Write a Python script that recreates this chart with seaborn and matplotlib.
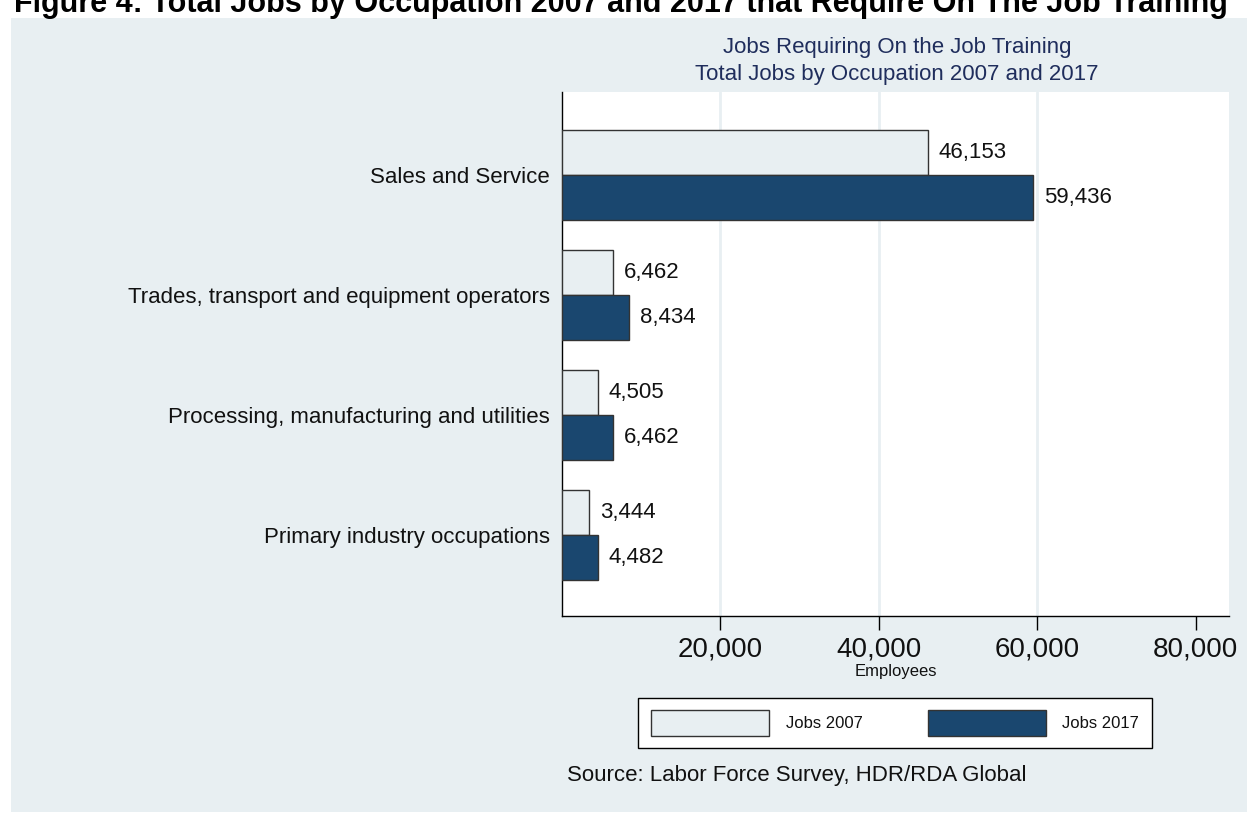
import matplotlib
matplotlib.use("Agg")
import matplotlib.pyplot as plt
from matplotlib.patches import Rectangle, Patch
import seaborn as sns
import pandas as pd

# Occupations and job counts
occupations = [
    "Sales and Service",
    "Trades, transport and equipment operators",
    "Processing, manufacturing and utilities",
    "Primary industry occupations",
]
jobs_2007 = [46153, 6462, 4505, 3444]
jobs_2017 = [59436, 8434, 6462, 4482]
series = ["Jobs 2007", "Jobs 2017"]
x_ticks = [20000, 40000, 60000, 80000]

df = pd.DataFrame({
    "occupation": occupations * 2,
    "jobs": jobs_2007 + jobs_2017,
    "series": [series[0]] * len(occupations) + [series[1]] * len(occupations),
})

PANEL = "#e8eff2"
NAVY = "#1a476f"
TITLE_C = "#1f2d5c"
INK = "#111111"

sns.set_theme(style="white")
plt.rcParams["font.family"] = ["Liberation Sans", "DejaVu Sans"]
plt.rcParams.update({"text.color": INK, "xtick.color": INK, "ytick.color": INK,
                     "axes.labelcolor": INK})

W, H = 1257, 813
fig = plt.figure(figsize=(W / 100, H / 100), dpi=100, facecolor="white")
fig.patches.append(Rectangle((11 / W, 1 - 812 / H), (1247 - 11) / W, (812 - 18) / H,
                             transform=fig.transFigure, facecolor=PANEL,
                             edgecolor="none", zorder=-10))

ax = fig.add_axes([562 / W, 1 - 616 / H, (1229 - 562) / W, (616 - 92) / H])
ax.set_zorder(1)
ax.set_facecolor("white")

sns.barplot(data=df, y="occupation", x="jobs", hue="series", orient="h",
            order=occupations, hue_order=series,
            palette={series[0]: PANEL, series[1]: NAVY}, saturation=1,
            width=0.75, edgecolor="#333333", linewidth=1.0, ax=ax, legend=False,
            zorder=3)

for cont in ax.containers:
    ax.bar_label(cont, fmt="{:,.0f}", padding=8, fontsize=16, color=INK)

ax.set_xlim(0, 84200)
ax.set_ylim(3.675, -0.69)
ax.set_xticks(x_ticks)
ax.set_xticklabels([f"{v:,}" for v in x_ticks], fontsize=20)
ax.tick_params(axis="x", direction="out", length=10, width=1, color="black",
               pad=5, bottom=True)
ax.tick_params(axis="y", length=0, pad=9, labelsize=16)
for v in x_ticks[:-1]:
    ax.axvline(v, color=PANEL, lw=2, zorder=1)
ax.set_xlabel("Employees", fontsize=12, labelpad=1)
ax.set_ylabel("")
for s in ["top", "right"]:
    ax.spines[s].set_visible(False)
for s in ["left", "bottom"]:
    ax.spines[s].set_color("black")
    ax.spines[s].set_linewidth(1)

handles = [Patch(facecolor=PANEL, edgecolor="#333333", lw=1),
           Patch(facecolor=NAVY, edgecolor="#333333", lw=1)]
leg = fig.legend(handles, series, loc="center", bbox_to_anchor=(895 / W, 1 - 723 / H),
                 ncol=2, fontsize=12, frameon=True, fancybox=False, framealpha=1,
                 handlelength=7.1, handleheight=2.0, handletextpad=1.0,
                 columnspacing=3.9, borderpad=0.75)
leg.get_frame().set_edgecolor("black")
leg.get_frame().set_linewidth(1)
leg.get_frame().set_facecolor("white")

fig.text(897 / W, 1 - 61 / H,
         "Jobs Requiring On the Job Training\nTotal Jobs by Occupation 2007 and 2017",
         ha="center", va="center", fontsize=16, color=TITLE_C, linespacing=1.4)
fig.text(567 / W, 1 - 775 / H, "Source: Labor Force Survey, HDR/RDA Global",
         ha="left", va="center", fontsize=16, color=INK)
fig.text(14 / W, 1 - 12 / H,
         "Figure 4: Total Jobs by Occupation 2007 and 2017 that Require On The Job Training",
         ha="left", va="baseline", fontsize=22, fontweight="bold", color="black")

fig.savefig("out.png", dpi=100, facecolor="white")
